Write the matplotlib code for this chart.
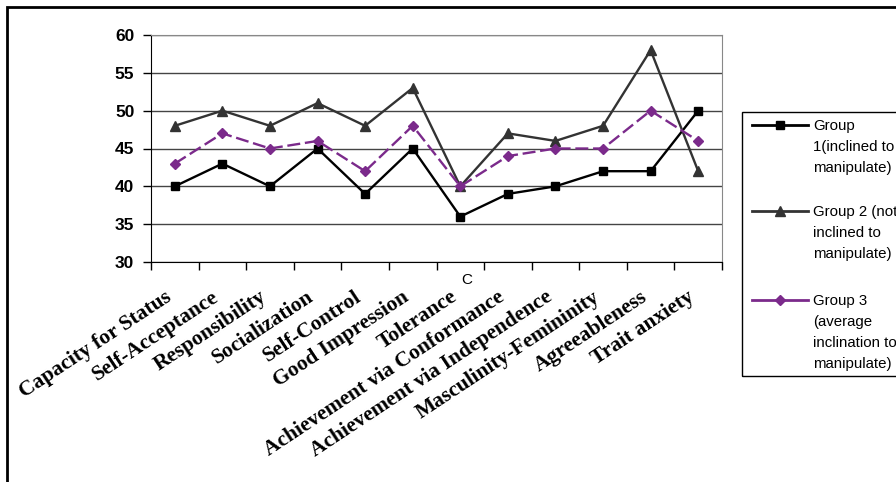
import matplotlib
matplotlib.use("Agg")
import matplotlib.pyplot as plt
from matplotlib.lines import Line2D
from matplotlib.patches import Rectangle

categories = ["Capacity for Status", "Self-Acceptance", "Responsibility", "Socialization",
              "Self-Control", "Good Impression", "Tolerance", "Achievement via Conformance",
              "Achievement via Independence", "Masculinity-Femininity", "Agreeableness",
              "Trait anxiety"]
group1 = [40, 43, 40, 45, 39, 45, 36, 39, 40, 42, 42, 50]
group2 = [48, 50, 48, 51, 48, 53, 40, 47, 46, 48, 58, 42]
group3 = [43, 47, 45, 46, 42, 48, 40, 44, 45, 45, 50, 46]
labels = ["Group\n1(inclined to\nmanipulate)",
          "Group 2 (not\ninclined to\nmanipulate)",
          "Group 3\n(average\ninclination to\nmanipulate)"]
yticks = [30, 35, 40, 45, 50, 55, 60]

W, H = 896, 482
fig = plt.figure(figsize=(W/100, H/100), dpi=100)
ax = fig.add_axes([151/W, 1-262/H, (722-151)/W, (262-35)/H])

x = list(range(len(categories)))
c1, c2, c3 = "#000000", "#333333", "#7B2A8B"
ax.plot(x, group1, color=c1, lw=1.7, marker="s", ms=6, zorder=3)
ax.plot(x, group2, color=c2, lw=1.7, marker="^", ms=7, zorder=3)
ax.plot(x, group3, color=c3, lw=1.7, marker="D", ms=5, dashes=(5.5, 2), zorder=3)

ax.set_xlim(-0.5, len(categories)-0.5)
ax.set_ylim(30, 60)
ax.set_yticks(yticks)
ax.set_yticklabels([str(v) for v in yticks], fontfamily="Liberation Sans",
                   fontweight="bold", fontsize=12.5)
ax.yaxis.grid(True, color="#444444", lw=1)
ax.set_axisbelow(True)
ax.set_xticks([i - 0.5 for i in range(len(categories)+1)])
ax.set_xticklabels([])
ax.tick_params(axis="both", direction="out", length=6, width=1, color="#000000", pad=6)
for s in ["top", "right"]:
    ax.spines[s].set_color("#888888")
for s in ["left", "bottom"]:
    ax.spines[s].set_color("#000000")

for i, cat in enumerate(categories):
    ax.annotate(cat, xy=(i, 30), xycoords="data", xytext=(-11, -25),
                textcoords="offset pixels", rotation=33.5, ha="right", va="top",
                rotation_mode="anchor", fontfamily="Liberation Serif",
                fontweight="bold", fontsize=15.5, annotation_clip=False)
ax.annotate("C", xy=(6, 30), xycoords="data", xytext=(6, -18),
            textcoords="offset pixels", ha="center", va="center",
            fontfamily="Liberation Sans", fontsize=11, annotation_clip=False)

# outer frame
fig.add_artist(Rectangle((7/W, -0.1), 1.2, 1-7/H+0.1, transform=fig.transFigure,
                         fill=False, ec="#000000", lw=2))

# legend
fig.add_artist(Rectangle((742/W, 1-376/H), 200/W, (376-112)/H, transform=fig.transFigure,
                         fill=False, ec="#000000", lw=1))
ys = [125, 211, 300]
styles = [(c1, "s", 5.5), (c2, "^", 6.5), (c3, "D", 5)]
for (col, mk, ms), yy, lab in zip(styles, ys, labels):
    fig.add_artist(Line2D([752/W, 808/W], [1-yy/H]*2, transform=fig.transFigure,
                          color=col, lw=2))
    fig.add_artist(Line2D([780/W], [1-yy/H], transform=fig.transFigure,
                          color=col, marker=mk, ms=ms))
    fig.text(813/W, 1-(yy-6)/H, lab, ha="left", va="top", fontfamily="Liberation Sans",
             fontsize=10.8, linespacing=1.63)

fig.savefig("out.png", dpi=100)
